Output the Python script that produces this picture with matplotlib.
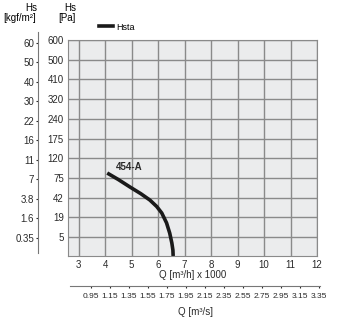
import matplotlib
matplotlib.use('Agg')
from matplotlib import pyplot as plt
from matplotlib.lines import Line2D

plt.rcParams['font.family'] = ['Liberation Sans', 'DejaVu Sans']

# Pressure tick labels (equally spaced rows on the chart)
pa_labels = ['5', '19', '42', '75', '120', '175', '240', '320', '410', '500', '600']
kgf_labels = ['0.35', '1.6', '3.8', '7', '11', '16', '22', '30', '40', '50', '60']

# Airflow ticks
q_h = [3, 4, 5, 6, 7, 8, 9, 10, 11, 12]
q_s = [0.95, 1.15, 1.35, 1.55, 1.75, 1.95, 2.15, 2.35, 2.55, 2.75, 2.95, 3.15, 3.35]

# Curve 454-A: Q [m3/h x 1000] vs row position of Hs
curve_q = [4.08, 4.5, 4.94, 5.35, 5.69, 5.95, 6.14, 6.32, 6.44, 6.52, 6.56, 6.57]
curve_h = [3.25, 2.92, 2.54, 2.2, 1.88, 1.55, 1.22, 0.72, 0.2, -0.3, -0.66, -0.96]

W, H = 346, 328
fig = plt.figure(figsize=(W / 100, H / 100), dpi=100)

def box(x0, y0, x1, y1):
    return [x0 / W, 1 - y1 / H, (x1 - x0) / W, (y1 - y0) / H]

grid_c = '#8a8a8a'
text_c = '#2a2a2a'

# Main chart
ax = fig.add_axes(box(68, 40, 317, 256))
ax.set_facecolor('#ebeced')
ax.set_xlim(2.6, 12.0)
ax.set_ylim(-0.96, 10.0)
ax.set_xticks(q_h)
ax.set_xticklabels([str(v) for v in q_h], fontsize=7)
ax.set_yticks(range(len(pa_labels)))
ax.set_yticklabels(pa_labels, fontsize=7)
ax.tick_params(length=0, pad=3, colors=text_c)
ax.grid(True, color=grid_c, lw=1.0)
for s in ax.spines.values():
    s.set_color(grid_c)
ax.plot(curve_q, curve_h, color='#1a1a1a', lw=2.6, solid_capstyle='butt')
ax.text(4.4, 3.4, '454-A', fontsize=7, fontweight='bold', color='#2a2a2a')
ax.set_xlabel('Q [m³/h] x 1000', fontsize=7, labelpad=0, color=text_c)

# kgf/m2 axis on the far left
ax2 = fig.add_axes(box(37.7, 32, 38.2, 253))
ax2.set_ylim(-0.77, 10.55)
ax2.set_yticks(range(len(kgf_labels)))
ax2.set_yticklabels(kgf_labels, fontsize=7)
ax2.set_xticks([])
ax2.patch.set_visible(False)
for k in ['top', 'right', 'bottom']:
    ax2.spines[k].set_visible(False)
ax2.spines['left'].set_color('#777777')
ax2.tick_params(axis='y', length=1.5, width=0.8, pad=1, colors=text_c)

# m3/s axis underneath
ax3 = fig.add_axes(box(70, 285, 320, 285.5))
ax3.set_xlim(0.733, 3.36)
ax3.set_xticks(q_s)
ax3.set_xticklabels(['%.2f' % v for v in q_s], fontsize=6)
ax3.set_yticks([])
ax3.patch.set_visible(False)
for k in ['top', 'right', 'left']:
    ax3.spines[k].set_visible(False)
ax3.spines['bottom'].set_color('#777777')
ax3.tick_params(axis='x', length=1.5, width=0.8, pad=4, colors=text_c)
ax3.set_xlabel('Q [m³/s]', fontsize=7, labelpad=5, color=text_c)

# Axis headers
fig.text(31 / W, 1 - 8 / H, 'Hs', fontsize=7, ha='center', va='center')
fig.text(20 / W, 1 - 18 / H, '[kgf/m²]', fontsize=7, ha='center', va='center')
fig.text(70 / W, 1 - 8 / H, 'Hs', fontsize=7, ha='center', va='center')
fig.text(67 / W, 1 - 18 / H, '[Pa]', fontsize=7, ha='center', va='center')

# Legend
fig.legend(handles=[Line2D([], [], color='#1a1a1a', lw=2.6)], labels=['Hsta'],
           loc='center left', bbox_to_anchor=(99 / W, 1 - 27 / H), frameon=False,
           fontsize=6.5, handlelength=1.6, handletextpad=0.3, borderpad=0,
           borderaxespad=0)

plt.savefig('out.png', dpi=100)
